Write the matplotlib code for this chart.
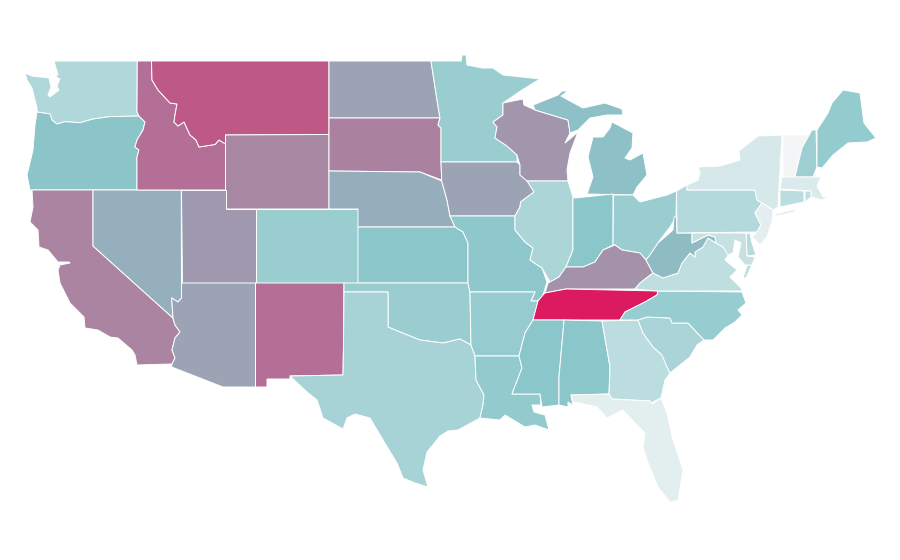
import matplotlib
matplotlib.use("Agg")
import matplotlib.pyplot as plt
from matplotlib.collections import PolyCollection
from matplotlib.colors import LinearSegmentedColormap, Normalize

# Value per state (read from shading, 0-100)
states = ["WA","OR","CA","NV","ID","MT","WY","UT","AZ","CO","NM","ND","SD","NE","KS","OK","TX",
          "MN","IA","MO","AR","LA","WI","IL","MI","IN","OH","KY","TN","MS","AL","GA","FL","SC",
          "NC","VA","WV","PA","NY","VT","NH","ME","MA","CT","RI","NJ","DE","MD"]
values = [25.5,41,63,48,70,78,62,56,52,34,70,52,64,48.5,40,34,29,
          34,52,38,35.5,36.5,57,27,42,40,34,58,100,40,40,21,6.5,28,
          35,20,44,24,11,0,33,36,9,21,20,6,22,17]
color_stops = [(0.0,"#f3f5f6"),(0.4,"#8ac6ca"),(1.0,"#dc1a60")]

# State outlines in map units
shapes = {
"WA":[[(54,61),(137.3,61),(137,112),(139,116),(109,116.7),(93,119),(80,122.7),(65,121.7),(57,124),(52,120),(50,114),(37,112),(37,108),(35,100),(32,88),(27,80),(25,73),(32,76),(49,78),(51,87),(48,95),(50,97),(59,90),(57,86),(60,79),(56,77),(58,74),(56,68)]],
"OR":[[(37,112),(50,114),(52,120),(57,124),(65,121.7),(80,122.7),(93,119),(109,116.7),(139,116),(145,122),(143,130),(137,140),(135,147),(139,150),(137,157),(137,190),(30,190),(27,175),(33,150),(35,125)]],
"CA":[[(32,190),(93,190),(93,246),(173,318),(175,325),(180,332),(175,338),(172,350),(175,358),(172,364),(137,365),(135,355),(132,350),(118,338),(110,337),(98,330),(85,328),(84,317),(70,303),(60,283),(58,270),(60,265),(70,263),(69,262),(58,262),(48,250),(39,247),(38,230),(30,222),(33,207)]],
"NV":[[(93,190),(181.3,190),(181.5,298),(178,302),(171.7,298),(173,318),(93,246)]],
"ID":[[(137.3,61),(151.5,61),(152,80),(158,90),(170,103),(177,104),(175,115),(174,122),(178,126),(184,122),(190,135),(196,140),(199,147),(215,144.5),(219,140),(225.5,144),(225.5,190),(137,190),(137,157),(139,150),(135,147),(137,140),(143,130),(145,122),(139,116),(137,112)]],
"MT":[[(151.5,61),(329,61),(329,134.5),(225.5,135),(225.5,144),(219,140),(215,144.5),(199,147),(196,140),(190,135),(184,122),(178,126),(174,122),(175,115),(177,104),(170,103),(158,90),(152,80)]],
"WY":[[(225.5,135),(329,134.5),(329,209),(225.5,209)]],
"UT":[[(181.3,190),(225.5,190),(225.5,209),(255.5,209),(255.5,283),(181.5,283)]],
"AZ":[[(181.5,283),(255.5,283),(255.5,387),(223,387),(171.7,367),(172,364),(175,358),(172,350),(175,338),(180,332),(175,325),(173,318),(171.7,298),(178,302),(181.5,298)]],
"CO":[[(255.5,209),(358,209),(358,283),(255.5,283)]],
"NM":[[(255.5,283),(344,283),(343.5,345),(343,375),(290,376),(290,379),(267,379),(267,387),(255.5,387)]],
"ND":[[(329,61),(431,61),(437,100),(440,118),(329,118)]],
"SD":[[(329,118),(440,118),(438,125),(441,128),(441,162),(441.7,180),(420,172),(329,171)]],
"NE":[[(329,171),(420,172),(441.7,181),(447,200),(450,216),(455,227),(358,227),(358,209),(329,209)]],
"KS":[[(358,227),(455,227),(463,232),(468,243),(468,283),(358,283)]],
"OK":[[(344,283),(468,283),(470,292),(471,345),(460,339),(443,343),(420,340),(400,332),(388,327),(388,292),(344,292)]],
"TX":[[(344,292),(388,292),(388,327),(400,332),(420,340),(443,343),(460,339),(471,345),(475,356),(476,380),(484,395),(483,405),(480,418),(458,430),(448,431),(440,436),(432,446),(427,452),(423,470),(428,487),(415,483),(403,478),(397,463),(383,440),(370,418),(355,414),(347,418),(343,429),(323,418),(317,400),(307,392),(290,376),(343,375),(343.5,345)]],
"MN":[[(431,61),(461,61),(462,55),(466,55),(467,65),(482,68),(493,68),(503,75),(522,77),(540,79),(522,90),(503,103),(503,115),(493,122),(497,127),(495,138),(507,146),(517,155),(517,162),(441,162),(441,128),(438,125),(440,118),(437,100)]],
"IA":[[(441,162),(517,162),(520,165),(520,175),(527,180),(534,192),(520.6,202),(520,207),(515,216),(450,216),(447,200),(441.7,181)]],
"MO":[[(450,216),(515,216),(515,230),(525,242),(533,248),(530,260),(542,268),(547,282),(543,295),(538,301),(531,301),(535,292),(470,292),(468,283),(468,243),(463,232),(455,227)]],
"AR":[[(470,292),(535,292),(531,301),(538,301),(533,320),(525,333),(519,356),(475,356),(471,345)]],
"LA":[[(475,356),(519,356),(522,368),(512,394),(540,394),(541,405),(532,405),(534,412),(545,415),(549,430),(535,425),(525,427),(505,415),(500,420),(480,418),(483,405),(484,395),(476,380)]],
"WI":[[(503,103),(523,99),(524,105),(535,110),(568,120),(570,133),(565,143),(578,132),(570,153),(567,170),(568,181),(527,181),(520,175),(520,165),(517,155),(507,146),(495,138),(497,127),(493,122),(503,115)]],
"IL":[[(527,181),(568,181),(573,197),(573,250),(566,267),(559,277),(550,282),(542,268),(530,260),(533,248),(525,242),(515,230),(515,216),(520,207),(520.6,202),(534,192)]],
"MI":[[(612,122),(633,133),(632,148),(625,158),(630,160),(643,153),(647,175),(637,187),(633,195),(587,194),(593,177),(588,157),(593,137),(603,137),(610,128)],
      [(533,105),(558,95),(562,91),(568,91),(561,96),(568,100),(583,108),(605,103),(622,109),(623,115),(607,115),(590,118),(578,130),(570,133),(568,120),(535,110)]],
"IN":[[(573,197),(575,198),(613,194),(613,245),(603,250),(595,262),(583,267),(566,267),(573,250)]],
"OH":[[(613.5,195),(633,195),(640,202),(667,195),(676.5,191),(676,217),(670,227),(660,240),(650,255),(646,260),(640,253),(622,250),(615,245),(613,245)]],
"KY":[[(550,282),(559,277),(566,267),(583,267),(595,262),(603,250),(615,245),(622,250),(640,253),(646,260),(653,273),(640,283),(635,289),(566,289),(545,293),(548,283)]],
"TN":[[(545,293),(566,289),(658,291),(657,295),(645,302),(635,307),(625,312),(620,320),(533,320),(538,301),(543,295)]],
"MS":[[(533,320),(564,320),(563,332),(559,377),(559,405),(542,407),(540,394),(512,394),(522,368),(519,356),(525,333)]],
"AL":[[(564,320),(602,321),(610,367),(609,394),(571,395),(573,405),(568,402),(568,407),(559,405),(559,377),(563,332)]],
"GA":[[(602,321),(638,320),(643,333),(653,347),(662,355),(667,367),(670,373),(665,380),(661,398),(653,402),(652,404),(650,401),(612,399),(609,394),(610,367)]],
"FL":[[(571,395),(609,394),(612,399),(650,401),(652,404),(661,398),(667,413),(673,440),(683,470),(678,500),(670,502),(658,487),(647,460),(643,447),(645,433),(637,425),(623,410),(607,418),(597,407),(580,403),(573,402)]],
"SC":[[(638,320),(647,317),(670,318),(672,323),(688,323),(704,340),(697,345),(690,357),(680,365),(670,373),(667,367),(662,355),(653,347),(643,333)]],
"NC":[[(658,291),(742,292),(746,303),(738,310),(742,315),(735,322),(725,328),(713,340),(704,340),(688,323),(672,323),(670,318),(647,317),(638,320),(620,320),(625,312),(635,307),(645,302),(657,295)]],
"VA":[[(635,289),(640,283),(653,273),(663,278),(678,273),(682,263),(690,253),(695,257),(695,252),(703,247),(708,238),(716,243),(723,247),(730,253),(725,260),(737,270),(730,277),(740,287),(743,291),(658,291)],
      [(747,265),(752,265),(746,278),(743,278)]],
"WV":[[(674,217),(676.5,217),(677,233),(692,233),(692,243),(698,240),(708,235),(715,237),(716,243),(708,238),(703,247),(695,252),(695,257),(690,253),(682,263),(678,273),(663,278),(653,273),(646,260),(650,255),(658,243),(673,230)]],
"PA":[[(676.5,191),(687,185),(687,190),(755,190),(757,200),(762,203),(755,213),(761,225),(757,232),(677,233)]],
"NY":[[(687,190),(687,185),(698,180),(700,173),(698,167),(720,166),(740,160),(739,151),(758,136),(782,135),(779,187),(778,207),(773,210),(762,203),(757,200),(755,190)],
      [(773,215),(800,208),(793,212),(777,216)]],
"VT":[[(783,135),(809,135),(802,148),(795,177),(783,177)]],
"NH":[[(812,130),(816,130),(817,167),(813,177),(795,177),(802,148)]],
"ME":[[(817,130),(828,113),(832,103),(843,90),(860,93),(864,123),(876,138),(867,142),(848,143),(833,155),(822,168),(817,167)]],
"MA":[[(782,177),(821,177),(817,186),(823,197),(830,196),(822,200),(811,197),(811,191),(780,189)]],
"CT":[[(780,190),(804,191),(804,202),(780,207)]],
"RI":[[(805,191),(811,191),(811,197),(805,202)]],
"NJ":[[(762,203),(773,210),(772,222),(767,237),(760,245),(752,237),(757,232),(761,225),(755,213)]],
"DE":[[(746,234),(750,233),(752,243),(756,255),(747,256)]],
"MD":[[(692,233),(746,233),(747,256),(755,257),(752,265),(745,265),(738,257),(741,243),(735,240),(733,253),(728,255),(723,247),(716,243),(715,237),(708,235),(698,240),(692,243)]],
}

fig = plt.figure(figsize=(9, 5.6), dpi=100, facecolor="white")
ax = fig.add_axes([0, 0, 1, 1])
ax.set_xlim(0, 900)
ax.set_ylim(560, 0)
ax.axis("off")

cmap = LinearSegmentedColormap.from_list("teal_crimson", color_stops)
polys, poly_values = [], []
for st, v in zip(states, values):
    for part in shapes[st]:
        polys.append(part)
        poly_values.append(v)

coll = PolyCollection(polys, array=poly_values, cmap=cmap, norm=Normalize(0, 100),
                      edgecolors="white", linewidths=0.7, antialiaseds=True)
ax.add_collection(coll)
fig.savefig("out.png", dpi=100, facecolor="white")
